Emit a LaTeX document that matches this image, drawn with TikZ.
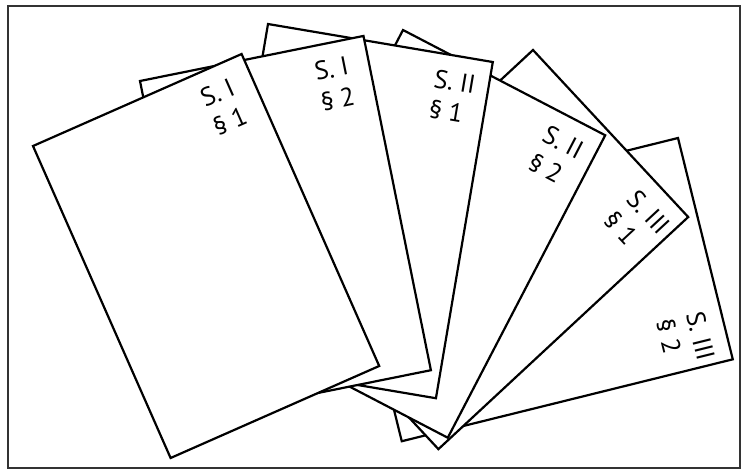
\documentclass[tikz,border=0pt]{standalone}
\usepackage{fontspec}
\setmainfont{PT Sans}
\begin{document}
\begin{tikzpicture}[x=1pt, y=-1pt,
    sheet/.style={fill=white, draw=black, line width=2.2pt},
    sheetlabel/.style={anchor=north west, align=left, inner sep=0pt,
      font=\fontsize{26}{31}\selectfont}]
  % Fixed page area
  \useasboundingbox (0,0) rectangle (747,475);

  % Outer frame
  \draw[line width=1.8pt, black!80] (8,6) rectangle (740,468);

  % Sheets, drawn from back to front
  \foreach \px/\py/\ang/\secno/\parno/\nm in {
      678/138/76.1/III/2/s3p2,
      533/50/47.1/III/1/s3p1,
      403/30/27.5/II/2/s2p2,
      268/24/9.6/II/1/s2p1,
      140/81/-11.4/I/2/s1p2,
      33/146/-23.8/I/1/s1p1} {
    \begin{scope}[shift={(\px,\py)}, rotate={-1*(\ang)}, transform shape]
      \draw[sheet] (0,0) rectangle (228,341);
      % Section and paragraph mark near the upper right corner
      \node[sheetlabel] (lbl-\nm) at (173,16) {S. \secno\\§ \parno};
    \end{scope}
  }
\end{tikzpicture}
\end{document}
